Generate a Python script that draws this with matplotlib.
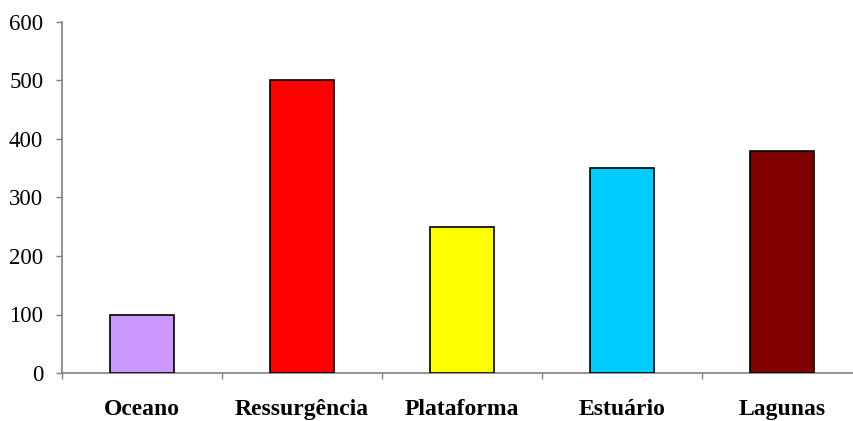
import matplotlib
matplotlib.use("Agg")
import matplotlib.pyplot as plt
import numpy as np

categories = ["Oceano", "Ressurgência", "Plataforma", "Estuário", "Lagunas"]
values = [100, 500, 250, 350, 380]
colors = ["#CC99FF", "#FF0000", "#FFFF00", "#00CCFF", "#800000"]
yticks = [0, 100, 200, 300, 400, 500, 600]

plt.rcParams["font.family"] = ["Liberation Serif", "DejaVu Serif"]

fig = plt.figure(figsize=(8.54, 4.21), dpi=100)
ax = fig.add_axes([62 / 854, 48 / 421, 800 / 854, 351 / 421])

x = np.arange(len(categories))
ax.bar(x, values, width=0.4, color=colors, edgecolor="black", linewidth=1.2, zorder=3)

ax.set_xlim(-0.5, len(categories) - 0.5)
ax.set_ylim(0, 600)
ax.set_yticks(yticks)
ax.set_yticklabels([str(t) for t in yticks], fontsize=16.5)

ax.set_xticks(x)
ax.set_xticklabels(categories, fontsize=17, fontweight="bold")
ax.set_xticks(np.arange(len(categories)) - 0.5, minor=True)
ax.tick_params(axis="x", which="major", length=0, pad=19)
ax.tick_params(axis="x", which="minor", length=4.5, color="#808080", width=1)
ax.tick_params(axis="y", length=4.5, color="#808080", width=1, pad=9)

for side in ("top", "right"):
    ax.spines[side].set_visible(False)
for side in ("left", "bottom"):
    ax.spines[side].set_color("#808080")
    ax.spines[side].set_linewidth(1.2)

fig.savefig("out.png", dpi=100)
